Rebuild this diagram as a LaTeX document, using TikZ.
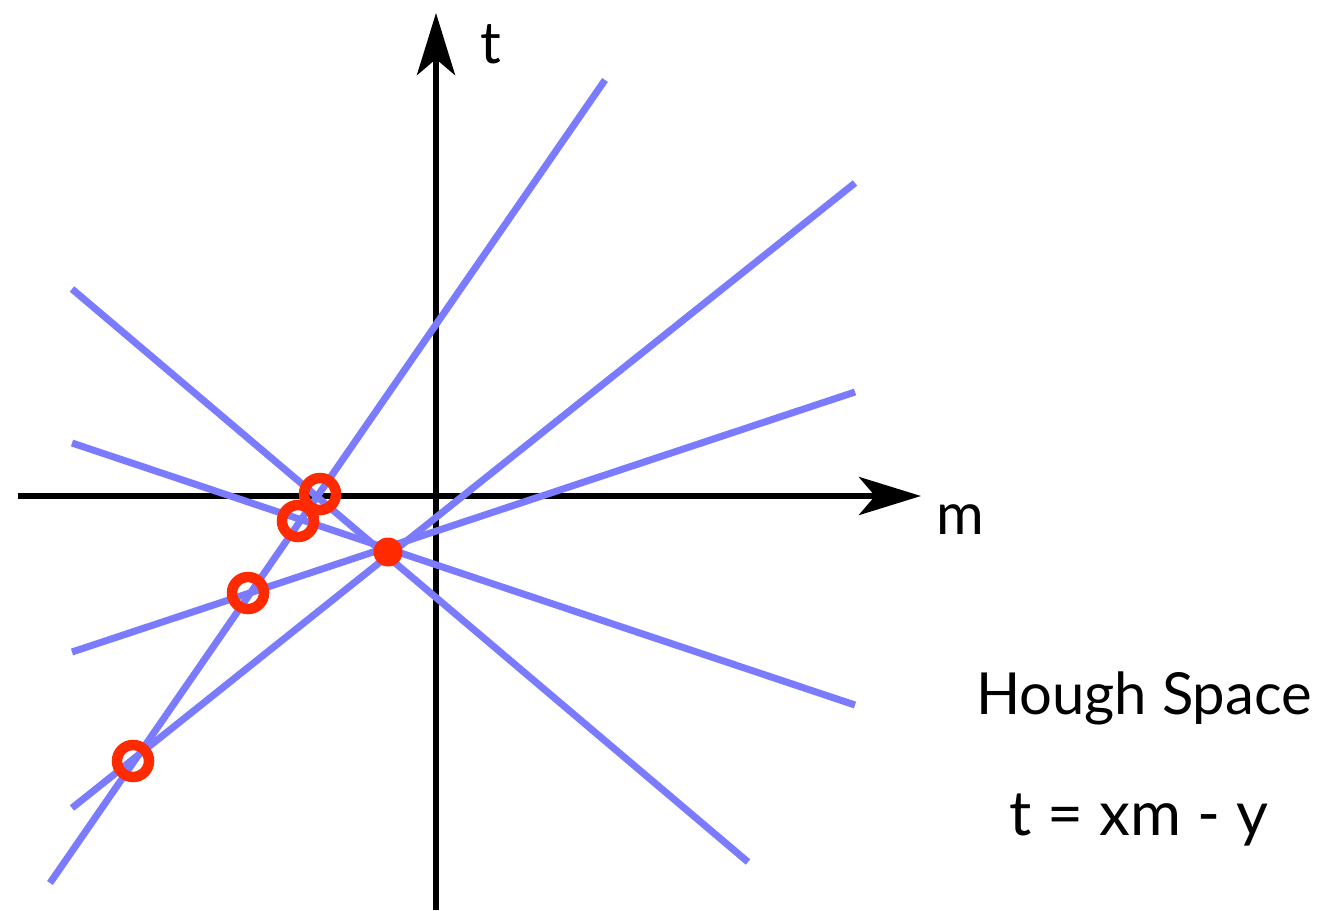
\documentclass[tikz,border=0pt]{standalone}
\usepackage{fontspec}
\setmainfont{Lato}
\usetikzlibrary{arrows.meta}
\definecolor{lineblue}{HTML}{7B7BFF}
\definecolor{ptred}{HTML}{FF2A00}
\tikzset{
  hline/.style={lineblue, line width=7pt},
  axis/.style={black, line width=6pt, -{Stealth[length=62pt, width=38pt, inset=16pt]}},
  ring/.style={circle, draw=ptred, line width=10.5pt, minimum size=32pt, inner sep=0pt},
  dot/.style={circle, fill=ptred, minimum size=29pt, inner sep=0pt},
  lbl/.style={font=\fontsize{58}{66}\selectfont, inner sep=0pt},
}
\begin{document}
\begin{tikzpicture}[x=1pt, y=-1pt]
\useasboundingbox (0,0) rectangle (1321,910);
% line endpoints
\coordinate (a1) at (50,883);  \coordinate (a2) at (605,80);
\coordinate (b1) at (72,289);  \coordinate (b2) at (748,862);
\coordinate (c1) at (72,443);  \coordinate (c2) at (855,705);
\coordinate (d1) at (72,652);  \coordinate (d2) at (855,392);
\coordinate (e1) at (72,808);  \coordinate (e2) at (855,183);
% axes
\coordinate (xs) at (18,496);  \coordinate (xe) at (921,496);
\coordinate (ys) at (436,910); \coordinate (ye) at (436,13);
\draw[axis] (xs) -- (xe);
\draw[axis] (ys) -- (ye);
% lines
\draw[hline] (a1) -- (a2);
\draw[hline] (b1) -- (b2);
\draw[hline] (c1) -- (c2);
\draw[hline] (d1) -- (d2);
\draw[hline] (e1) -- (e2);
% points
\node[ring] (p1) at (133,761) {};
\node[ring] (p2) at (248,593) {};
\node[ring] (p3) at (298,521) {};
\node[ring] (p4) at (320,494) {};
\node[dot] (q) at (388,552) {};
% labels
\node[lbl] (tl) at (491,44) {t};
\node[lbl] (ml) at (960,520) {m};
\node[lbl] (hs) at (1144,698) {Hough Space};
\node[lbl, font=\fontsize{62}{70}\selectfont] (eq) at (1139,820) {t = xm - y};
\end{tikzpicture}
\end{document}
